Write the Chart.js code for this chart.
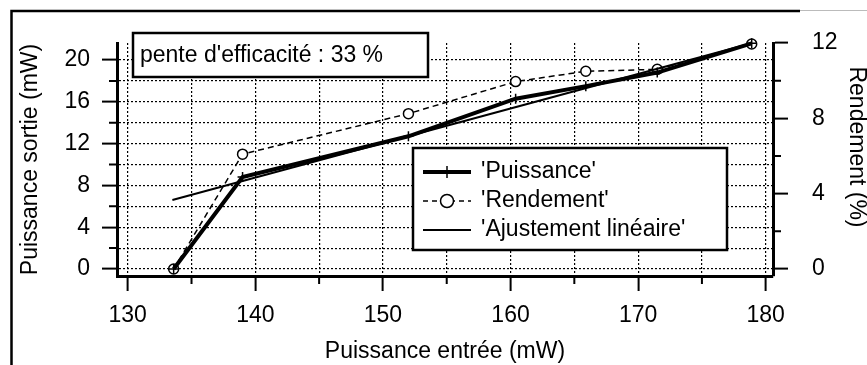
<!DOCTYPE html>
<html lang="fr">
<head>
<meta charset="utf-8">
<title>Puissance sortie et rendement</title>
<script src="https://cdn.jsdelivr.net/npm/chart.js@4.4.0/dist/chart.umd.min.js"></script>
<style>
  html, body { margin: 0; padding: 0; background: #fff; }
</style>
</head>
<body>
<canvas id="laser" width="867" height="365"></canvas>
<script>
// mesures (mW et %)
const inputPower = [133.6, 139.0, 152.0, 160.4, 165.9, 171.5, 178.9];
const outputPower = [0, 8.8, 12.7, 16.3, 17.5, 18.8, 21.6];
const efficiency = [0, 6.1, 8.25, 9.95, 10.5, 10.6, 11.95];

// droite d'ajustement
const fitInput = [133.5, 178.9];
const fitOutput = [6.6, 21.6];

const seriesNames = ["'Puissance'", "'Rendement'", "'Ajustement linéaire'"];
const slopeText = "pente d'efficacité : 33 %";
const rightTitle = "Rendement (%)";

const xTicks = [130, 140, 150, 160, 170, 180];
const leftTicks = [0, 4, 8, 12, 16, 20];
const rightTicks = [0, 4, 8, 12];

const pts = (xs, ys) => xs.map((x, i) => ({ x: x, y: ys[i] }));

const FONT = "'Liberation Sans', Arial, sans-serif";
Chart.defaults.font.family = FONT;
Chart.defaults.font.size = 23;
Chart.defaults.color = "#000";

const majorColor = (list) => (c) => (c.tick && list.includes(c.tick.value) ? "#000" : "rgba(0,0,0,0)");

// cadre du scan
const frame = {
  id: "frame",
  beforeDraw(chart) {
    const ctx = chart.ctx;
    ctx.save();
    ctx.strokeStyle = "#000";
    ctx.lineWidth = 2.5;
    ctx.beginPath();
    ctx.moveTo(11.5, 365);
    ctx.lineTo(11.5, 11);
    ctx.lineTo(800, 11);
    ctx.stroke();
    ctx.strokeStyle = "#bbb";
    ctx.lineWidth = 1;
    ctx.beginPath();
    ctx.moveTo(800, 10.5);
    ctx.lineTo(867, 10.5);
    ctx.stroke();
    ctx.restore();
  }
};

// petites graduations intermédiaires
const minorTicks = {
  id: "minorTicks",
  afterDraw(chart) {
    const ctx = chart.ctx;
    const area = chart.chartArea;
    const len = 8;
    ctx.save();
    ctx.strokeStyle = "#000";
    ctx.lineWidth = 2;
    ctx.beginPath();
    chart.scales.x.ticks.forEach((t) => {
      if (xTicks.includes(t.value)) return;
      const px = chart.scales.x.getPixelForValue(t.value);
      ctx.moveTo(px, area.bottom);
      ctx.lineTo(px, area.bottom + len);
    });
    chart.scales.y.ticks.forEach((t) => {
      if (leftTicks.includes(t.value)) return;
      const py = chart.scales.y.getPixelForValue(t.value);
      ctx.moveTo(area.left, py);
      ctx.lineTo(area.left - len, py);
    });
    chart.scales.y1.ticks.forEach((t) => {
      if (rightTicks.includes(t.value)) return;
      const py = chart.scales.y1.getPixelForValue(t.value);
      ctx.moveTo(area.right, py);
      ctx.lineTo(area.right + len, py);
    });
    ctx.stroke();
    ctx.restore();
  }
};

// encadré de pente, légende, titre de droite
const overlay = {
  id: "overlay",
  afterDraw(chart) {
    const ctx = chart.ctx;
    ctx.save();
    ctx.font = "23px " + FONT;
    ctx.textBaseline = "middle";
    ctx.textAlign = "left";

    ctx.fillStyle = "#fff";
    ctx.fillRect(133, 33, 295, 44);
    ctx.strokeStyle = "#000";
    ctx.lineWidth = 2.5;
    ctx.strokeRect(133, 33, 295, 44);
    ctx.fillStyle = "#000";
    ctx.fillText(slopeText, 140, 56);

    const lx = 413, ly = 148, lw = 314, lh = 102;
    ctx.fillStyle = "#fff";
    ctx.fillRect(lx, ly, lw, lh);
    ctx.strokeRect(lx, ly, lw, lh);

    const rows = [172, 201, 230];
    const s0 = 423, s1 = 471, sc = 447;

    // Puissance
    ctx.lineWidth = 4;
    ctx.beginPath();
    ctx.moveTo(s0, rows[0]);
    ctx.lineTo(s1, rows[0]);
    ctx.stroke();
    ctx.lineWidth = 1.5;
    ctx.beginPath();
    ctx.moveTo(sc, rows[0] - 6);
    ctx.lineTo(sc, rows[0] + 6);
    ctx.stroke();

    // Rendement
    ctx.lineWidth = 1.5;
    ctx.setLineDash([5, 4]);
    ctx.beginPath();
    ctx.moveTo(s0, rows[1]);
    ctx.lineTo(s1, rows[1]);
    ctx.stroke();
    ctx.setLineDash([]);
    ctx.fillStyle = "#fff";
    ctx.beginPath();
    ctx.arc(sc, rows[1], 6.5, 0, Math.PI * 2);
    ctx.fill();
    ctx.stroke();

    // Ajustement
    ctx.lineWidth = 2;
    ctx.beginPath();
    ctx.moveTo(s0, rows[2]);
    ctx.lineTo(s1, rows[2]);
    ctx.stroke();

    ctx.fillStyle = "#000";
    seriesNames.forEach((name, i) => ctx.fillText(name, 481, rows[i]));

    // titre de l'axe de droite, lu de haut en bas
    ctx.translate(856, 147);
    ctx.rotate(Math.PI / 2);
    ctx.textAlign = "center";
    ctx.fillText(rightTitle, 0, 0);
    ctx.restore();
  }
};

const gridBase = {
  color: "#000",
  lineWidth: 1.2,
  tickLength: 15,
  tickWidth: 2
};

new Chart(document.getElementById("laser"), {
  type: "line",
  data: {
    datasets: [
      {
        label: seriesNames[2],
        data: pts(fitInput, fitOutput),
        yAxisID: "y",
        borderColor: "#000",
        borderWidth: 2,
        pointRadius: 0,
        clip: false
      },
      {
        label: seriesNames[0],
        data: pts(inputPower, outputPower),
        yAxisID: "y",
        borderColor: "#000",
        borderWidth: 4,
        pointStyle: "cross",
        pointRadius: 5,
        pointBorderWidth: 1.5,
        pointBorderColor: "#000",
        clip: false
      },
      {
        label: seriesNames[1],
        data: pts(inputPower, efficiency),
        yAxisID: "y1",
        borderColor: "#000",
        borderWidth: 1.5,
        borderDash: [6, 4],
        pointStyle: "circle",
        pointRadius: 5,
        pointBorderWidth: 1.5,
        pointBorderColor: "#000",
        pointBackgroundColor: "#fff",
        clip: false
      }
    ]
  },
  options: {
    responsive: false,
    animation: false,
    layout: { padding: { top: 43, left: 0, right: 0, bottom: 0 } },
    elements: { line: { tension: 0 } },
    plugins: { legend: { display: false }, tooltip: { enabled: false } },
    scales: {
      x: {
        type: "linear",
        min: 129.16,
        max: 180.57,
        grid: Object.assign({}, gridBase, { tickColor: majorColor(xTicks) }),
        border: { display: true, color: "#000", width: 3, dash: [2, 2] },
        ticks: {
          stepSize: 5,
          includeBounds: false,
          autoSkip: false,
          maxRotation: 0,
          padding: 11,
          callback: (v) => (xTicks.includes(v) ? v : "")
        },
        title: { display: true, text: "Puissance entrée (mW)", padding: { top: 0, bottom: 0 } },
        afterFit: (s) => { s.height = 89; }
      },
      y: {
        position: "left",
        min: -0.67,
        max: 21.63,
        grid: Object.assign({}, gridBase, { tickColor: majorColor(leftTicks) }),
        border: { display: true, color: "#000", width: 3, dash: [2, 2] },
        ticks: {
          stepSize: 2,
          includeBounds: false,
          autoSkip: false,
          padding: 12,
          callback: (v) => (leftTicks.includes(v) ? v : "")
        },
        title: { display: true, text: "Puissance sortie (mW)", padding: { top: 17, bottom: 0 } },
        afterFit: (s) => { s.width = 117; }
      },
      y1: {
        position: "right",
        min: -0.37,
        max: 12,
        grid: Object.assign({}, gridBase, { drawOnChartArea: false, tickColor: majorColor(rightTicks) }),
        border: { display: true, color: "#000", width: 3 },
        ticks: {
          stepSize: 2,
          includeBounds: false,
          autoSkip: false,
          padding: 24,
          callback: (v) => (rightTicks.includes(v) ? v : "")
        },
        title: { display: false },
        afterFit: (s) => { s.width = 94; }
      }
    }
  },
  plugins: [frame, minorTicks, overlay]
});
</script>
</body>
</html>
